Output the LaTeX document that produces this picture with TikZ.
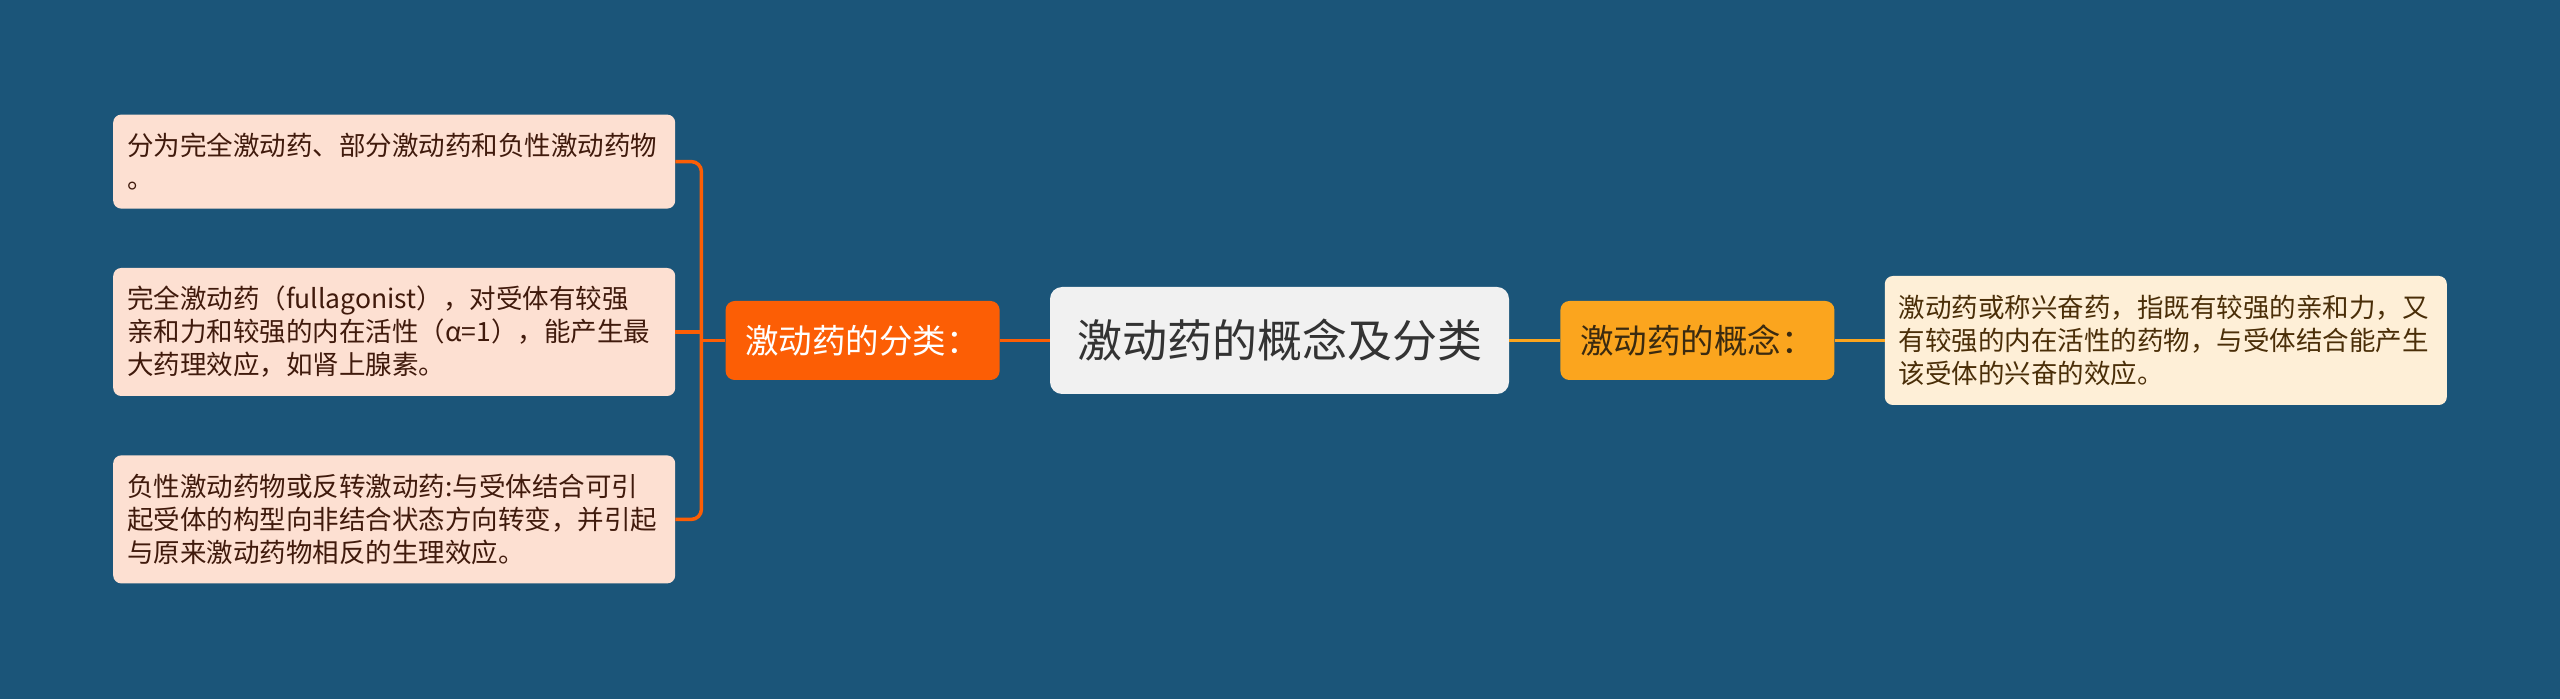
\documentclass[tikz,border=0pt]{standalone}
\usepackage{fontspec}
\setmainfont{Noto Sans CJK SC}
\usetikzlibrary{positioning}
\definecolor{bgblue}{HTML}{1B5579}
\definecolor{peach}{HTML}{FDE0D2}
\definecolor{peachink}{HTML}{401A0C}
\definecolor{cream}{HTML}{FEEFD7}
\definecolor{creamink}{HTML}{4A2E08}
\definecolor{hotorange}{HTML}{FC5E05}
\definecolor{amber}{HTML}{FBA51E}
\definecolor{amberink}{HTML}{3A2A10}
\definecolor{titlegray}{HTML}{F1F1F1}
\tikzset{
  leaf/.style={fill=peach,text=peachink,rounded corners=8pt,align=left,
    text width=534pt,inner xsep=14pt,inner ysep=0pt,
    font=\fontsize{26.5}{33}\selectfont},
  creamleaf/.style={leaf,fill=cream,text=creamink},
  branch/.style={rounded corners=9pt,minimum width=274pt,minimum height=79pt,
    font=\fontsize{33.5}{40}\selectfont},
  root/.style={fill=titlegray,text=black!80,rounded corners=12pt,
    minimum width=459pt,minimum height=107pt,font=\fontsize{45}{54}\selectfont},
  orangeline/.style={draw=hotorange,line width=3.5pt},
  amberline/.style={draw=amber,line width=3.5pt}
}
\begin{document}
\begin{tikzpicture}
  \useasboundingbox (0,0) rectangle (2560pt,699pt);
  \fill[bgblue] (0,0) rectangle (2560pt,699pt);
  \node[root] (title) at (1279.5pt,358.5pt) {激动药的概念及分类};
  \node[branch,fill=hotorange,text=white] (fenlei) [left=50pt of title] {激动药的分类：};
  \node[branch,fill=amber,text=amberink] (gainian) [right=51pt of title] {激动药的概念：};
  \node[creamleaf,minimum height=129pt] (dingyi) [right=50pt of gainian]
    {激动药或称兴奋药，指既有较强的亲和力，又\\有较强的内在活性的药物，与受体结合能产生\\该受体的兴奋的效应。};
  \node[leaf,minimum height=128pt] (wanquan) [left=50pt of fenlei,yshift=8.5pt]
    {完全激动药（fullagonist），对受体有较强\\亲和力和较强的内在活性（α=1），能产生最\\大药理效应，如肾上腺素。};
  \node[leaf,minimum height=94pt] (fenwei) [above=59pt of wanquan]
    {分为完全激动药、部分激动药和负性激动药物\\。};
  \node[leaf,minimum height=128pt] (fuxing) [below=59pt of wanquan]
    {负性激动药物或反转激动药:与受体结合可引\\起受体的构型向非结合状态方向转变，并引起\\与原来激动药物相反的生理效应。};
  \coordinate (fork) at ([xshift=-24pt]fenlei.west);
  \path[orangeline] (title) edge (fenlei);
  \path[amberline]
    (title) edge (gainian)
    (gainian) edge (dingyi);
  \draw[orangeline] (fenlei.west) -- (fork);
  \draw[orangeline,rounded corners=10pt] (fenwei.east) -| (fork) |- (fuxing.east);
  \draw[orangeline] (wanquan.east) -- (wanquan.east -| fork);
\end{tikzpicture}
\end{document}
